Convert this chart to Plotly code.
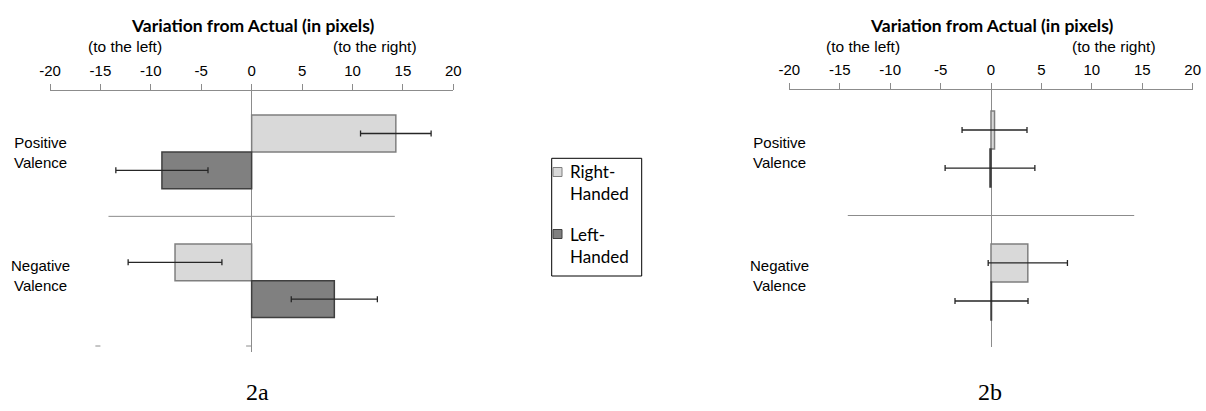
import plotly.graph_objects as go

# Valence categories (top to bottom)
categories = ["Positive Valence", "Negative Valence"]
category_lines = ["Positive<br>Valence", "Negative<br>Valence"]

# Panel 2a: mean variation from actual (pixels) and error half-widths
a_right_handed = [14.3, -7.6]
a_right_err = [3.5, 4.65]
a_left_handed = [-8.9, 8.2]
a_left_err = [4.57, 4.27]

# Panel 2b
b_right_handed = [0.35, 3.65]
b_right_err = [3.22, 3.93]
b_left_handed = [-0.1, 0.05]
b_left_err = [4.45, 3.62]

tick_values = [-20, -15, -10, -5, 0, 5, 10, 15, 20]
tick_labels = ["-20", "-15", "-10", "-5", "0", "5", "10", "15", "20"]

series_names = ["Right-Handed", "Left-Handed"]
legend_lines = [["Right-", "Handed"], ["Left-", "Handed"]]
panel_captions = ["2a", "2b"]

W, H = 1206, 411


def px(x):
    return x / W


def py(y):
    return 1 - y / H


LIGHT, LIGHT_EDGE = "#d9d9d9", "#7f7f7f"
DARK, DARK_EDGE = "#808080", "#3f3f3f"
AXIS = "#8c8c8c"
ERR = "#262626"
SANS = "Liberation Sans, Arial, sans-serif"
TITLE_FONT = "Lato, Liberation Sans, sans-serif"

fig = go.Figure()

panels = [
    ("x", "y", a_right_handed, a_right_err, a_left_handed, a_left_err),
    ("x2", "y2", b_right_handed, b_right_err, b_left_handed, b_left_err),
]
for xa, ya, rv, re, lv, le in panels:
    fig.add_trace(go.Bar(
        name=series_names[0], y=categories, x=rv, orientation="h",
        xaxis=xa, yaxis=ya, showlegend=False,
        marker=dict(color=LIGHT, line=dict(color=LIGHT_EDGE, width=1.5)),
        error_x=dict(type="data", array=re, visible=True, color=ERR,
                     thickness=1.3, width=3),
    ))
    fig.add_trace(go.Bar(
        name=series_names[1], y=categories, x=lv, orientation="h",
        xaxis=xa, yaxis=ya, showlegend=False,
        marker=dict(color=DARK, line=dict(color=DARK_EDGE, width=1.5)),
        error_x=dict(type="data", array=le, visible=True, color=ERR,
                     thickness=1.3, width=3),
    ))

xaxis_common = dict(
    side="top", range=[-20, 20], tickmode="array",
    tickvals=tick_values, ticktext=tick_labels,
    ticks="outside", ticklen=6, tickcolor=AXIS, tickwidth=1,
    showline=True, linecolor=AXIS, linewidth=1,
    showgrid=False, zeroline=True, zerolinecolor=AXIS, zerolinewidth=1,
    tickfont=dict(family=SANS, size=15, color="black"),
    ticklabelstandoff=2, fixedrange=True, automargin=False,
)
yaxis_common = dict(
    type="category", categoryorder="array", categoryarray=categories,
    showticklabels=False, showline=False, showgrid=False, zeroline=False,
    ticks="", fixedrange=True, automargin=False,
)

fig.update_layout(
    width=W, height=H, margin=dict(l=0, r=0, t=0, b=0, pad=0),
    paper_bgcolor="white", plot_bgcolor="white",
    barmode="group", bargap=0.428, bargroupgap=0,
    showlegend=False,
    xaxis=dict(domain=[px(50), px(453.3)], anchor="y", **xaxis_common),
    yaxis=dict(domain=[py(352), py(91)], anchor="x",
               range=[1.553, -0.473], **yaxis_common),
    xaxis2=dict(domain=[px(789.3), px(1192.7)], anchor="y2", **xaxis_common),
    yaxis2=dict(domain=[py(347), py(90)], anchor="x2",
                range=[1.489, -0.444], **yaxis_common),
)

shapes = []
annotations = []

# divider between the two valence groups
for xr, yr in [("x", "y"), ("x2", "y2")]:
    shapes.append(dict(type="line", xref=xr, yref=yr, x0=-14.2, x1=14.2,
                       y0=0.5, y1=0.5, line=dict(color=AXIS, width=1)))

# stray tick marks at the foot of panel 2a
for x0, x1 in [(-15.5, -15.0), (-0.55, 0)]:
    shapes.append(dict(type="line", xref="x", yref="paper", x0=x0, x1=x1,
                       y0=py(346), y1=py(346), line=dict(color=AXIS, width=1)))

# axis titles and category labels for both panels
panel_text = [
    dict(title_x=253, left_x=125, right_x=375, cat_x=40, cat_y=[152, 275]),
    dict(title_x=992, left_x=863, right_x=1114, cat_x=779, cat_y=[152, 275]),
]
for p in panel_text:
    annotations.append(dict(
        text="<b>Variation from Actual (in pixels)</b>", x=px(p["title_x"]),
        y=py(25), xref="paper", yref="paper", showarrow=False,
        xanchor="center", yanchor="middle",
        font=dict(family=TITLE_FONT, size=17.5, color="black")))
    annotations.append(dict(
        text="(to the left)", x=px(p["left_x"]), y=py(47), xref="paper",
        yref="paper", showarrow=False, xanchor="center", yanchor="middle",
        font=dict(family=SANS, size=15.5, color="black")))
    annotations.append(dict(
        text="(to the right)", x=px(p["right_x"]), y=py(47), xref="paper",
        yref="paper", showarrow=False, xanchor="center", yanchor="middle",
        font=dict(family=SANS, size=15.5, color="black")))
    for label, cy in zip(category_lines, p["cat_y"]):
        annotations.append(dict(
            text=label, x=px(p["cat_x"]), y=py(cy), xref="paper",
            yref="paper", showarrow=False, xanchor="center",
            yanchor="middle", align="center",
            font=dict(family=SANS, size=15, color="black")))

# shared legend box
shapes.append(dict(type="rect", xref="paper", yref="paper",
                   x0=px(551.7), x1=px(641.7), y0=py(158.3), y1=py(276),
                   line=dict(color="black", width=1), fillcolor="white"))
legend_rows = [(172, 193.7, LIGHT, LIGHT_EDGE), (234, 256.7, DARK, DARK_EDGE)]
for (y1, y2, fill, edge), lines in zip(legend_rows, legend_lines):
    shapes.append(dict(type="rect", xref="paper", yref="paper",
                       x0=px(553), x1=px(562), y0=py(y1 + 4.5), y1=py(y1 - 4.5),
                       line=dict(color=edge, width=1), fillcolor=fill))
    for txt, yy in zip(lines, (y1, y2)):
        annotations.append(dict(
            text=txt, x=px(568), y=py(yy), xref="paper", yref="paper",
            showarrow=False, xanchor="left", yanchor="middle",
            font=dict(family=TITLE_FONT, size=17, color="black")))

# panel captions
for cap, cx in zip(panel_captions, (257, 990)):
    annotations.append(dict(
        text=cap, x=px(cx), y=py(392), xref="paper", yref="paper",
        showarrow=False, xanchor="center", yanchor="middle",
        font=dict(family="Liberation Serif, Times New Roman, serif",
                  size=24, color="black")))

fig.update_layout(shapes=shapes, annotations=annotations)

fig.write_html("out.html")
